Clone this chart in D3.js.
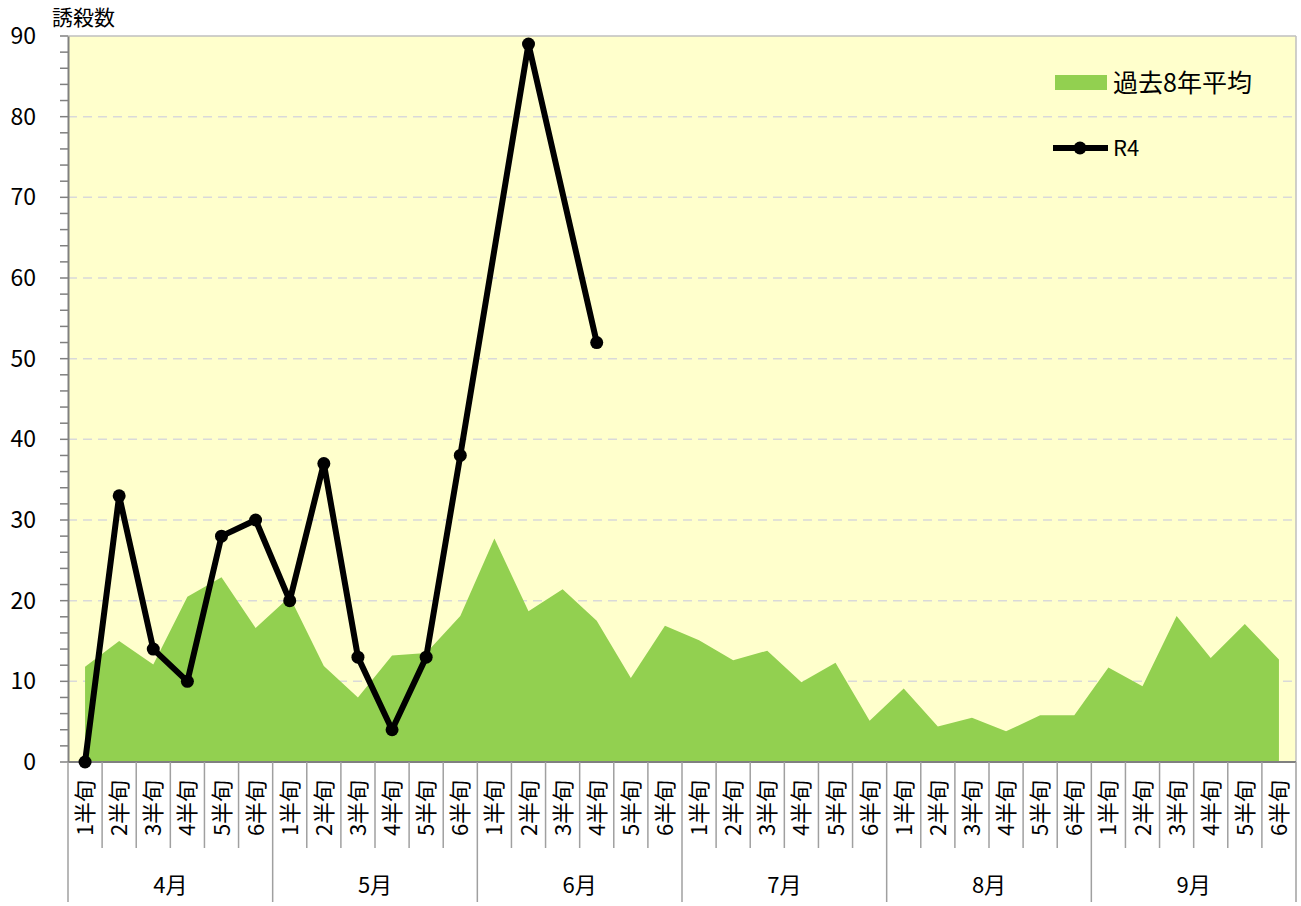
<!DOCTYPE html>
<html>
<head>
<meta charset="utf-8">
<script src="https://cdn.jsdelivr.net/npm/d3@7"></script>
<style>
  body { margin: 0; background: #fff; }
  text { font-family: "Noto Sans CJK JP", "Noto Sans", sans-serif; fill: #000; }
</style>
</head>
<body>
<div id="chart"></div>
<script>
const months = ["4月", "5月", "6月", "7月", "8月", "9月"];
const periods = ["1半旬", "2半旬", "3半旬", "4半旬", "5半旬", "6半旬"];
const avg8 = [11.8, 15.0, 12.1, 20.5, 22.9, 16.6,
              20.5, 11.9, 8.0, 13.2, 13.5, 18.1,
              27.7, 18.7, 21.4, 17.5, 10.4, 16.9,
              15.1, 12.6, 13.8, 9.9, 12.3, 5.1,
              9.1, 4.4, 5.5, 3.8, 5.8, 5.8,
              11.7, 9.4, 18.1, 12.9, 17.1, 12.7];
const r4 = [0, 33, 14, 10, 28, 30,
            20, 37, 13, 4, 13, 38,
            null, 89, null, 52, null, null];
const yTicks = [0, 10, 20, 30, 40, 50, 60, 70, 80, 90];

const W = 1301, H = 906;
const pLeft = 68, pRight = 1296, pTop = 36, pBottom = 762;

const cats = [];
months.forEach((m, i) => periods.forEach((p, j) => cats.push({ key: i * 6 + j, month: m, period: p })));

const svg = d3.select("#chart").append("svg").attr("width", W).attr("height", H);

const x = d3.scaleBand().domain(cats.map(d => d.key)).range([pLeft, pRight]).padding(0);
const y = d3.scaleLinear().domain([0, 90]).range([pBottom, pTop]);
const cx = i => x(i) + x.bandwidth() / 2;

// plot background
svg.append("rect").attr("x", pLeft).attr("y", pTop)
  .attr("width", pRight - pLeft).attr("height", pBottom - pTop).attr("fill", "#ffffcc");

// gridlines
svg.append("g").selectAll("line").data(yTicks.filter(v => v > 0 && v < 90)).join("line")
  .attr("x1", pLeft).attr("x2", pRight).attr("y1", d => y(d)).attr("y2", d => y(d))
  .attr("stroke", "#d9d9d9").attr("stroke-width", 1.5).attr("stroke-dasharray", "9,6");

// area
const area = d3.area().x((d, i) => cx(i)).y0(y(0)).y1(d => y(d));
svg.append("path").datum(avg8).attr("d", area).attr("fill", "#92d050");

// border top / right
svg.append("line").attr("x1", pLeft).attr("x2", pRight).attr("y1", pTop).attr("y2", pTop)
  .attr("stroke", "#bfbfbf").attr("stroke-width", 1.5);
svg.append("line").attr("x1", pRight).attr("x2", pRight).attr("y1", pTop).attr("y2", pBottom)
  .attr("stroke", "#bfbfbf").attr("stroke-width", 1.5);

// y axis
const yAxis = svg.append("g").attr("transform", `translate(${pLeft},0)`)
  .call(d3.axisLeft(y).tickValues(yTicks).tickSize(0).tickPadding(32));
yAxis.select(".domain").attr("stroke", "#808080").attr("stroke-width", 2);
yAxis.selectAll("text").attr("font-size", 23).attr("font-family", "Noto Sans, sans-serif");
const minor = d3.range(0, 90.01, 2);
svg.append("g").selectAll("line").data(minor).join("line")
  .attr("x1", pLeft - 8).attr("x2", pLeft).attr("y1", d => y(d)).attr("y2", d => y(d))
  .attr("stroke", "#808080").attr("stroke-width", 1.5);

// y title
svg.append("text").attr("x", 52).attr("y", 25).attr("font-size", 21).text("誘殺数");

// x axis
svg.append("line").attr("x1", pLeft).attr("x2", pRight).attr("y1", pBottom).attr("y2", pBottom)
  .attr("stroke", "#808080").attr("stroke-width", 2);
svg.append("g").selectAll("line").data(d3.range(1, 36).filter(i => i % 6 !== 0)).join("line")
  .attr("x1", i => x(i)).attr("x2", i => x(i)).attr("y1", pBottom).attr("y2", 848)
  .attr("stroke", "#a0a0a0").attr("stroke-width", 1.5);
svg.append("g").selectAll("line").data(d3.range(0, 37, 6)).join("line")
  .attr("x1", i => i === 36 ? pRight : x(i)).attr("x2", i => i === 36 ? pRight : x(i))
  .attr("y1", pBottom).attr("y2", 902)
  .attr("stroke", "#a0a0a0").attr("stroke-width", 1.5);
svg.append("g").selectAll("text").data(cats).join("text")
  .attr("transform", d => `translate(${cx(d.key) + 8},${808}) rotate(-90)`)
  .attr("text-anchor", "middle").attr("font-size", 22).text(d => d.period);
svg.append("g").selectAll("text").data(months).join("text")
  .attr("x", (d, i) => (x(i * 6) + (i === 5 ? pRight : x(i * 6 + 6))) / 2).attr("y", 893)
  .attr("text-anchor", "middle").attr("font-size", 22).text(d => d);

// R4 line
const pts = r4.map((v, i) => ({ i, v })).filter(d => d.v !== null);
const line = d3.line().x(d => cx(d.i)).y(d => y(d.v));
svg.append("path").datum(pts).attr("d", line).attr("fill", "none")
  .attr("stroke", "#000").attr("stroke-width", 6).attr("stroke-linejoin", "round");
svg.append("g").selectAll("circle").data(pts).join("circle")
  .attr("cx", d => cx(d.i)).attr("cy", d => y(d.v)).attr("r", 6.5).attr("fill", "#000");

// legend
const lg = svg.append("g");
lg.append("rect").attr("x", 1055).attr("y", 75).attr("width", 52).attr("height", 15).attr("fill", "#92d050");
lg.append("text").attr("x", 1113).attr("y", 92).attr("font-size", 25).text("過去8年平均");
lg.append("line").attr("x1", 1053).attr("x2", 1108).attr("y1", 148).attr("y2", 148)
  .attr("stroke", "#000").attr("stroke-width", 6);
lg.append("circle").attr("cx", 1080).attr("cy", 148).attr("r", 6.5).attr("fill", "#000");
lg.append("text").attr("x", 1113).attr("y", 156).attr("font-size", 22).text("R4");
</script>
</body>
</html>
